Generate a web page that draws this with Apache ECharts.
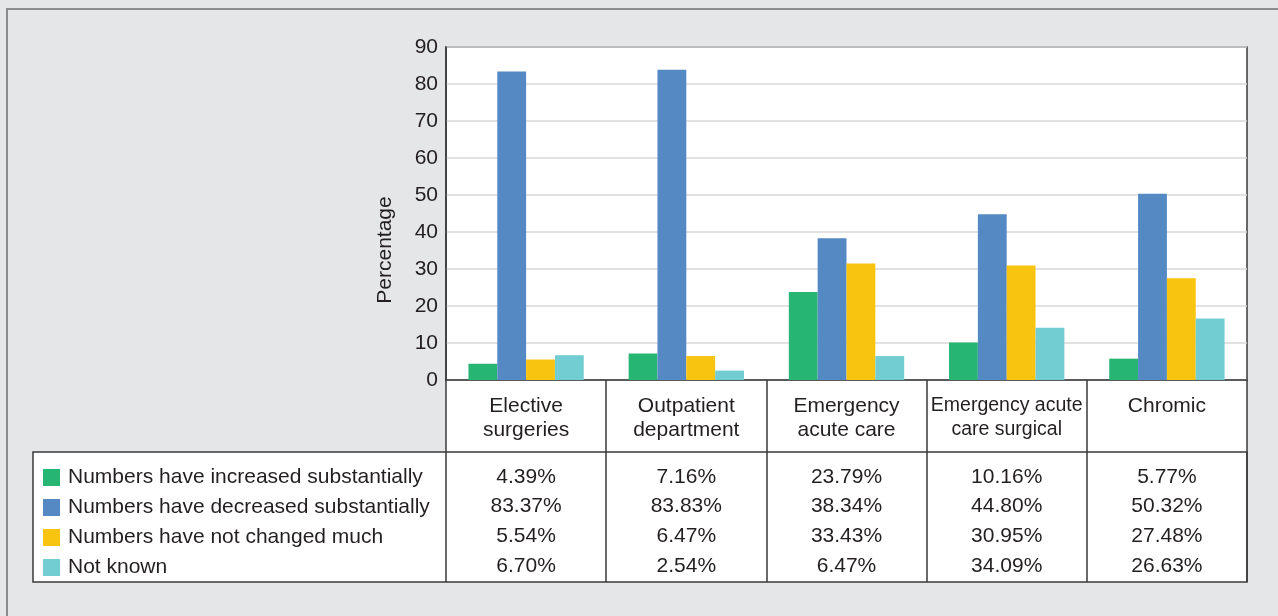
<!DOCTYPE html>
<html>
<head>
<meta charset="utf-8">
<script src="https://cdn.jsdelivr.net/npm/echarts@6/dist/echarts.min.js"></script>
<style>
html,body{margin:0;padding:0;background:#e5e6e7;}
#chart{width:1278px;height:616px;}
</style>
</head>
<body>
<div id="chart"></div>
<script>
// ---- data ----
const categories = ['Elective\nsurgeries', 'Outpatient\ndepartment', 'Emergency\nacute care', 'Emergency acute\ncare surgical', 'Chromic'];
const seriesNames = ['Numbers have increased substantially', 'Numbers have decreased substantially', 'Numbers have not changed much', 'Not known'];
const increased = [4.39, 7.16, 23.79, 10.16, 5.77];
const decreased = [83.37, 83.83, 38.34, 44.80, 50.32];
const notChanged = [5.54, 6.47, 31.5, 30.95, 27.48];
const notKnown = [6.70, 2.54, 6.47, 14.1, 16.6];
// printed table values
const tableIncreased = ['4.39%', '7.16%', '23.79%', '10.16%', '5.77%'];
const tableDecreased = ['83.37%', '83.83%', '38.34%', '44.80%', '50.32%'];
const tableNotChanged = ['5.54%', '6.47%', '33.43%', '30.95%', '27.48%'];
const tableNotKnown = ['6.70%', '2.54%', '6.47%', '34.09%', '26.63%'];
const yTicks = [0, 10, 20, 30, 40, 50, 60, 70, 80, 90];
const yName = 'Percentage';

// ---- layout / style ----
const colors = ['#27b574', '#5589c4', '#f8c40f', '#72cdd3'];
const FONT = "'Liberation Sans', Arial, sans-serif";
const FS = 21;
const TXT = '#231f20';
const LINE = '#3a3a3a';
const G = {left: 446, top: 47, width: 801, height: 333};
const headerH = 72, bodyH = 130, tableLeft = 33;
const gBottom = G.top + G.height;

const chart = echarts.init(document.getElementById('chart'), null, {renderer: 'canvas'});
const seriesData = [increased, decreased, notChanged, notKnown];
const tableRows = [tableIncreased, tableDecreased, tableNotChanged, tableNotKnown];

const option = {
  animation: false,
  backgroundColor: '#e5e6e7',
  textStyle: {fontFamily: FONT},
  grid: {left: G.left, top: G.top, width: G.width, height: G.height, show: true,
    backgroundColor: '#ffffff', borderColor: LINE, borderWidth: 1.5, outerBoundsMode: 'none', containLabel: false},
  legend: {
    orient: 'vertical', left: 38, top: 462, icon: 'rect',
    itemWidth: 17, itemHeight: 17, itemGap: 9,
    textStyle: {fontFamily: FONT, fontSize: FS, color: TXT, lineHeight: 21, padding: [0, 0, 0, 3]},
    data: seriesNames
  },
  xAxis: [
    {
      type: 'category', data: categories, position: 'bottom',
      axisLine: {show: true, lineStyle: {color: LINE, width: 1.5}},
      axisTick: {show: true, interval: 0, length: headerH + bodyH, lineStyle: {color: LINE, width: 1.5}},
      axisLabel: {interval: 0, margin: 14, fontFamily: FONT, fontSize: FS, lineHeight: 24, color: TXT, verticalAlign: 'top',
        formatter: (v, i) => i === 3 ? v.split('\n').map(s => '{n|' + s + '}').join('\n') : v,
        rich: {n: {fontFamily: FONT, fontSize: 19.5, lineHeight: 24, color: TXT}}},
      splitLine: {show: false}
    },
    {
      type: 'category', data: categories, position: 'bottom', offset: 82,
      axisLine: {show: false}, axisTick: {show: false},
      axisLabel: {interval: 0, margin: 0, fontFamily: FONT, fontSize: FS, lineHeight: 29.7, color: TXT, verticalAlign: 'top',
        formatter: (v, i) => tableRows.map(r => r[i]).join('\n')},
      splitLine: {show: false}
    }
  ],
  yAxis: {
    type: 'value', min: yTicks[0], max: yTicks[yTicks.length - 1], interval: yTicks[1] - yTicks[0],
    axisLine: {show: true, lineStyle: {color: LINE, width: 1.5}},
    axisTick: {show: false},
    axisLabel: {margin: 8, fontFamily: FONT, fontSize: FS, color: TXT},
    splitLine: {show: true, lineStyle: {color: '#d9d9d9', width: 1.5}}
  },
  graphic: [
    {type: 'polyline', z: -5, silent: true, shape: {points: [[7, 616], [7, 9], [1278, 9]]}, style: {stroke: '#8c8c8c', lineWidth: 2, fill: null}},
    {type: 'rect', z: -5, silent: true, shape: {x: G.left, y: gBottom, width: G.width, height: headerH}, style: {fill: '#ffffff'}},
    {type: 'rect', z: -5, silent: true, shape: {x: tableLeft, y: gBottom + headerH, width: G.left + G.width - tableLeft, height: bodyH},
      style: {fill: '#ffffff', stroke: LINE, lineWidth: 1.5}},
    {type: 'text', silent: true, x: 385, y: 250, rotation: Math.PI / 2,
      style: {text: yName, fontFamily: FONT, fontSize: FS, fill: TXT, align: 'center', verticalAlign: 'middle'}}
  ],
  series: seriesNames.map((name, k) => ({
    name, type: 'bar', xAxisIndex: 0, data: seriesData[k],
    barGap: 0, barCategoryGap: '28%',
    itemStyle: {color: colors[k]}
  })),
  color: colors
};
chart.setOption(option);
</script>
</body>
</html>
